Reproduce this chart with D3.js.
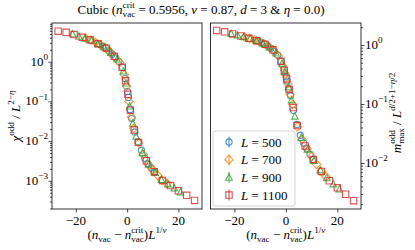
<!doctype html>
<html>
<head>
<meta charset="utf-8">
<script src="https://cdnjs.cloudflare.com/ajax/libs/d3/7.8.5/d3.min.js"></script>
<style>
body { margin:0; background:#fff; }
text { font-family: "Liberation Serif", "DejaVu Serif", serif; fill:#000; white-space: pre; }
</style>
</head>
<body>
<div id="chart"></div>
<script>
// scaled x positions (n_vac - n_crit) L^(1/nu) for each system size
var x500  = [-10.9,-9.6,-8.3,-7.1,-5.8,-4.5,-3.2,-1.9,-0.76,0.1,0.5,1.2,1.8,3.0,4.3,5.6,6.9,8.1,9.4,10.7];
var x700  = [-16.0,-14.1,-12.3,-10.4,-8.5,-6.7,-4.8,-2.9,-1.1,-0.2,0.74,1.7,2.6,4.5,6.3,8.2,10.0,11.9,13.7,15.6];
var x900  = [-21.3,-18.8,-16.4,-13.9,-11.4,-8.9,-6.4,-3.9,-1.5,-0.4,1.0,2.2,3.5,6.0,8.4,10.9,13.4,15.9,18.4,20.8];
var x1100 = [-26.9,-23.8,-20.7,-17.5,-14.4,-11.3,-8.1,-5.0,-1.9,-0.6,0.3,1.25,2.8,4.4,7.5,10.6,13.8,16.9,20.0,23.2,26.3];

// left panel: chi_odd / L^(2-eta)
var chi500  = [2.74,2.45,2.22,1.88,1.55,1.27,1.02,0.72,0.38,0.178,0.126,0.063,0.037,0.017,0.0096,0.0059,0.0037,0.0027,0.0021,0.00166];
var chi700  = [3.83,3.49,3.04,2.63,2.26,1.78,1.31,0.95,0.47,0.24,0.10,0.040,0.021,0.0089,0.0046,0.0026,0.0019,0.00138,0.00102,0.00085];
var chi900  = [5.01,4.37,3.89,3.44,2.84,2.34,1.70,1.16,0.58,0.29,0.076,0.028,0.0132,0.0051,0.0026,0.00162,0.00107,0.00083,0.00066,0.00052];
var chi1100 = [5.89,5.50,4.83,4.11,3.55,2.82,2.19,1.37,0.72,0.33,0.151,0.060,0.019,0.0093,0.0032,0.0017,0.00102,0.00076,0.00056,0.00043,0.00032];

// right panel: m_max_odd / L^(d/2+1-eta/2)
var m500  = [1.17,1.10,1.04,0.97,0.88,0.79,0.68,0.53,0.39,0.29,0.245,0.182,0.138,0.078,0.045,0.0295,0.0219,0.0178,0.0141,0.0115];
var m700  = [1.36,1.29,1.22,1.15,1.05,0.94,0.82,0.65,0.44,0.32,0.22,0.145,0.098,0.041,0.025,0.0174,0.0129,0.0095,0.0072,0.0059];
var m900  = [1.56,1.47,1.38,1.285,1.19,1.07,0.92,0.73,0.49,0.35,0.195,0.117,0.062,0.027,0.017,0.011,0.0076,0.0056,0.0044,0.0036];
var m1100 = [1.77,1.67,1.54,1.42,1.30,1.18,1.03,0.83,0.53,0.37,0.266,0.176,0.087,0.043,0.0195,0.0115,0.0072,0.0050,0.0038,0.00295,0.0023];

var sizes = [500, 700, 900, 1100];
var colors = ["#1f77b4", "#ff7f0e", "#2ca02c", "#d62728"];
var shapes = ["circle", "diamond", "triangle", "square"];
var xTicks = [-20, 0, 20];

var W = 415, H = 250, FS = 13;
var svg = d3.select("#chart").append("svg").attr("width", W).attr("height", H);

// lays out a little piece of math: parts are {t, it, s:"sup"/"sub", stack}
function mathText(g, parts, fs) {
  var x = 0, lastStart = 0, lastW = 0;
  parts.forEach(function (p) {
    var size = p.s ? fs * 0.7 : fs;
    var dy = p.s === "sup" ? -fs * 0.45 : (p.s === "sub" ? fs * 0.25 : 0);
    var x0 = p.stack ? lastStart : x;
    var t = g.append("text").attr("x", x0).attr("y", dy)
      .attr("xml:space", "preserve")
      .style("font-size", size + "px")
      .style("font-style", p.it ? "italic" : "normal")
      .text(p.t);
    var w = t.node().getComputedTextLength();
    if (p.stack) { x = Math.max(lastStart + lastW, x0 + w); }
    else { lastStart = x0; x = x0 + w; }
    lastW = w;
  });
  return x;
}

function placeMath(parts, fs, x, y, anchor, rot) {
  var outer = svg.append("g");
  var inner = outer.append("g");
  var w = mathText(inner, parts, fs);
  var off = anchor === "middle" ? -w / 2 : (anchor === "end" ? -w : 0);
  inner.attr("transform", "translate(" + off + ",0)");
  outer.attr("transform", "translate(" + x + "," + y + ")" + (rot ? " rotate(" + rot + ")" : ""));
  return outer;
}

function marker(sel, shape, color) {
  var p;
  if (shape === "circle") p = "M3.1,0A3.1,3.1 0 1,1 -3.1,0A3.1,3.1 0 1,1 3.1,0Z";
  else if (shape === "diamond") p = "M0,-4.2L4.2,0L0,4.2L-4.2,0Z";
  else if (shape === "triangle") p = "M0,-3.5L3.3,2.9L-3.3,2.9Z";
  else p = "M-3.2,-3.2L3.2,-3.2L3.2,3.2L-3.2,3.2Z";
  sel.append("path").attr("d", p)
    .attr("fill", "none").attr("stroke", color)
    .attr("stroke-width", 1.1).attr("stroke-opacity", 0.8);
}

var xLabel = [{t:"("}, {t:"n", it:true}, {t:"vac", s:"sub"}, {t:" \u2212 "}, {t:"n", it:true},
  {t:"crit", s:"sup"}, {t:"vac", s:"sub", stack:true}, {t:")"}, {t:"L", it:true},
  {t:"1/", s:"sup"}, {t:"\u03bd", s:"sup", it:true}];

function panel(opt) {
  var x = d3.scaleLinear().domain([-29.3, 29.2]).range([opt.x0, opt.x1]);
  var y = d3.scaleLog().domain(opt.yDom).range([209, 23]);
  var g = svg.append("g");

  var xs = [x500, x700, x900, x1100];
  opt.ys.forEach(function (ys, k) {
    ys.forEach(function (v, i) {
      var m = g.append("g").attr("transform", "translate(" + x(xs[k][i]) + "," + y(v) + ")");
      marker(m, shapes[k], colors[k]);
    });
  });

  // frame
  g.append("rect").attr("x", opt.x0).attr("y", 23)
    .attr("width", opt.x1 - opt.x0).attr("height", 186)
    .attr("fill", "none").attr("stroke", "#000").attr("stroke-width", 0.8);

  // x axis
  var xa = g.append("g").attr("transform", "translate(0,209)")
    .call(d3.axisBottom(x).tickValues(xTicks).tickSize(3.5).tickFormat(""));
  xa.select(".domain").remove();
  xa.selectAll("line").attr("stroke-width", 0.8);
  xTicks.forEach(function (t) {
    svg.append("text").attr("x", x(t)).attr("y", 225).attr("text-anchor", "middle")
      .style("font-size", FS + "px").text(t < 0 ? "\u2212" + (-t) : t);
  });

  // y axis, majors and minors
  var lo = Math.floor(Math.log10(opt.yDom[0])), hi = Math.ceil(Math.log10(opt.yDom[1]));
  var majors = [], minors = [];
  for (var e = lo; e <= hi; e++) {
    var b = Math.pow(10, e);
    if (b >= opt.yDom[0] && b <= opt.yDom[1]) majors.push(b);
    for (var j = 2; j < 10; j++) {
      var v = j * b;
      if (v >= opt.yDom[0] && v <= opt.yDom[1]) minors.push(v);
    }
  }
  var ax = opt.side === "left" ? d3.axisLeft : d3.axisRight;
  var ya = g.append("g").attr("transform", "translate(" + (opt.side === "left" ? opt.x0 : opt.x1) + ",0)")
    .call(ax(y).tickValues(majors).tickSize(3.5).tickFormat(""));
  ya.select(".domain").remove();
  var ym = g.append("g").attr("transform", "translate(" + (opt.side === "left" ? opt.x0 : opt.x1) + ",0)")
    .call(ax(y).tickValues(minors).tickSize(2).tickFormat(""));
  ym.select(".domain").remove();
  g.selectAll(".tick line").attr("stroke-width", 0.7);

  majors.forEach(function (v) {
    var e = Math.round(Math.log10(v));
    var parts = [{t:"10"}, {t:(e < 0 ? "\u2212" + (-e) : "" + e), s:"sup"}];
    if (opt.side === "left") placeMath(parts, FS, opt.x0 - 4, y(v) + 4, "end");
    else placeMath(parts, FS, opt.x1 + 4, y(v) + 4, "start");
  });

  placeMath(xLabel, FS, (opt.x0 + opt.x1) / 2, 239, "middle");
  placeMath(opt.yLabel, FS, opt.yLabX, opt.yLabY, "middle", -90);
}

panel({
  x0: 52, x1: 202, side: "left",
  yDom: [Math.pow(10, -3.71), Math.pow(10, 0.975)],
  ys: [chi500, chi700, chi900, chi1100],
  yLabel: [{t:"\u03c7", it:true}, {t:"odd", s:"sup"}, {t:" / "}, {t:"L", it:true},
    {t:"2\u2212", s:"sup"}, {t:"\u03b7", s:"sup", it:true}],
  yLabX: 19.5, yLabY: 116
});

panel({
  x0: 210.5, x1: 361, side: "right",
  yDom: [Math.pow(10, -2.78), Math.pow(10, 0.373)],
  ys: [m500, m700, m900, m1100],
  yLabel: [{t:"m", it:true}, {t:"odd", s:"sup"}, {t:"max", s:"sub", stack:true}, {t:" / "},
    {t:"L", it:true}, {t:"d", s:"sup", it:true}, {t:"/2+1\u2212", s:"sup"},
    {t:"\u03b7", s:"sup", it:true}, {t:"/2", s:"sup"}],
  yLabX: 401, yLabY: 113
});

// legend
var lg = svg.append("g");
lg.append("rect").attr("x", 213).attr("y", 131).attr("width", 82).attr("height", 75)
  .attr("rx", 2).attr("fill", "#fff").attr("fill-opacity", 0.8)
  .attr("stroke", "#ccc").attr("stroke-width", 0.8);
sizes.forEach(function (L, k) {
  var cy = 142 + k * 17.7;
  var m = lg.append("g").attr("transform", "translate(229," + cy + ")");
  m.append("line").attr("y1", -5.5).attr("y2", 5.5).attr("stroke", colors[k])
    .attr("stroke-width", 1.1).attr("stroke-opacity", 0.8);
  marker(m, shapes[k], colors[k]);
  placeMath([{t:"L", it:true}, {t:" = " + L}], FS, 241, cy + 4.5, "start");
});

// title
placeMath([{t:"Cubic ("}, {t:"n", it:true}, {t:"crit", s:"sup"}, {t:"vac", s:"sub", stack:true},
  {t:" = 0.5956, "}, {t:"\u03bd", it:true}, {t:" = 0.87, "}, {t:"d", it:true},
  {t:" = 3 & "}, {t:"\u03b7", it:true}, {t:" = 0.0)"}], FS, 201, 14, "middle");
</script>
</body>
</html>
